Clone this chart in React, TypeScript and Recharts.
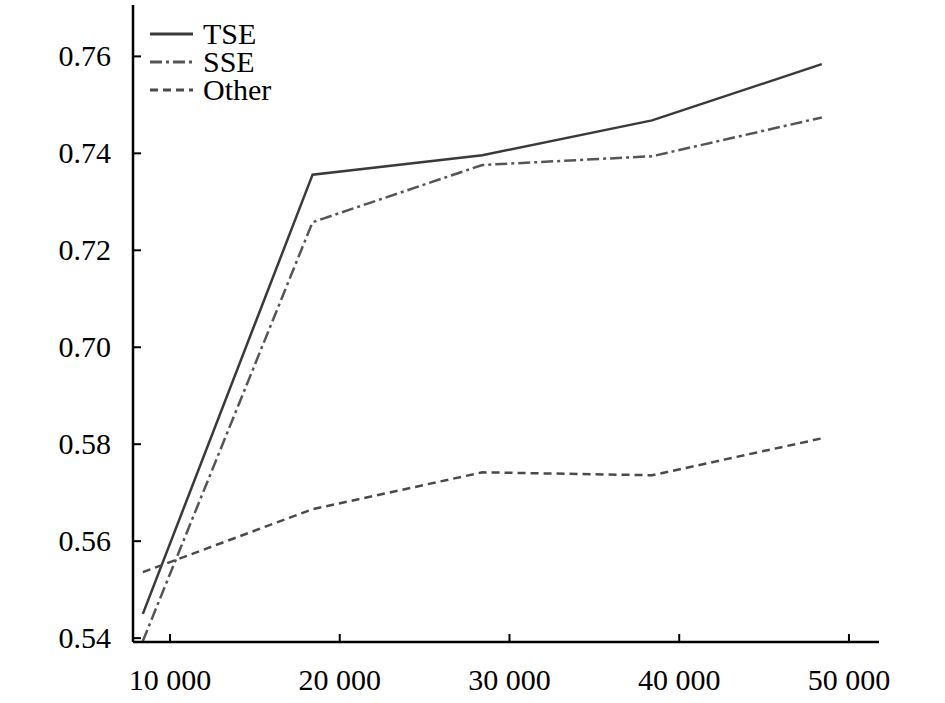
import { LineChart, Line, XAxis, YAxis } from 'recharts';

// x positions of the samples (axis units)
const xValues = [8400, 18400, 28400, 38400, 48400];
const xTicks = [10000, 20000, 30000, 40000, 50000];
const xTickLabels = ['10 000', '20 000', '30 000', '40 000', '50 000'];

// series values
const tseValues = [0.5450, 0.7356, 0.7396, 0.7468, 0.7584];
const sseValues = [0.5394, 0.7258, 0.7376, 0.7394, 0.7474];
const otherValues = [0.5536, 0.5666, 0.5742, 0.5736, 0.5812];

// y axis is broken between 0.58 and 0.70, ticks are evenly spaced
const yTickLabels = ['0.54', '0.56', '0.58', '0.70', '0.72', '0.74', '0.76'];
const yTicks = yTickLabels.map((_, i) => i);

const FONT = '"Liberation Serif", "Times New Roman", serif';

// map a real value onto the evenly spaced (broken) tick index scale
const toIdx = (v: number) => (v >= 0.65 ? 3 + (v - 0.7) / 0.02 : (v - 0.54) / 0.02);

const data = xValues.map((x, i) => ({
  x,
  TSE: toIdx(tseValues[i]),
  SSE: toIdx(sseValues[i]),
  Other: toIdx(otherValues[i]),
}));

const series = [
  { key: 'TSE', color: '#3a3a3a', dash: undefined as string | undefined },
  { key: 'SSE', color: '#555', dash: '12 4 3 4' },
  { key: 'Other', color: '#4a4a4a', dash: '8 5' },
];

const YTick = ({ x, y, payload }: any) => (
  <g>
    <line x1={x} x2={x + 8} y1={y} y2={y} stroke="#000" strokeWidth={2} />
    <text x={x - 22} y={y + 10} textAnchor="end" fontSize={30} fontFamily={FONT} fill="#000">
      {yTickLabels[payload.value]}
    </text>
  </g>
);

const XTick = ({ x, y, payload }: any) => {
  const i = xTicks.indexOf(payload.value);
  return (
    <g>
      <line x1={x} x2={x} y1={y} y2={y - 8} stroke="#000" strokeWidth={2} />
      <text x={x} y={y + 48} textAnchor="middle" fontSize={30} fontFamily={FONT} fill="#000">
        {xTickLabels[i]}
      </text>
    </g>
  );
};

function ChartLegend() {
  return (
    <svg width={300} height={110} style={{ position: 'absolute', left: 0, top: 0 }}>
      {series.map((s, i) => {
        const cy = 34 + i * 28;
        return (
          <g key={s.key}>
            <line x1={150} x2={193} y1={cy} y2={cy} stroke={s.color} strokeWidth={3} strokeDasharray={s.dash} />
            <text x={203} y={cy + 10} fontSize={30} fontFamily={FONT} fill="#000">
              {s.key}
            </text>
          </g>
        );
      })}
    </svg>
  );
}

export default function App() {
  return (
    <div style={{ position: 'absolute', left: 0, top: 0, width: 945, height: 703, background: '#fff' }}>
      <LineChart width={945} height={703} data={data} margin={{ top: 5, right: 66, bottom: 0, left: 0 }}>
        <XAxis
          dataKey="x"
          type="number"
          domain={[7820, 51770]}
          ticks={xTicks}
          allowDataOverflow
          height={61}
          tickSize={0}
          tickMargin={0}
          tickLine={false}
          axisLine={{ stroke: '#000', strokeWidth: 2.5 }}
          tick={<XTick />}
          interval={0}
        />
        <YAxis
          type="number"
          domain={[-0.04, 6.53]}
          ticks={yTicks}
          allowDataOverflow
          width={133}
          tickSize={0}
          tickMargin={0}
          tickLine={false}
          axisLine={{ stroke: '#000', strokeWidth: 2.5 }}
          tick={<YTick />}
          interval={0}
        />
        {series.map((s) => (
          <Line
            key={s.key}
            type="linear"
            dataKey={s.key}
            stroke={s.color}
            strokeWidth={2.5}
            strokeDasharray={s.dash}
            dot={false}
            isAnimationActive={false}
          />
        ))}
      </LineChart>
      <ChartLegend />
    </div>
  );
}
